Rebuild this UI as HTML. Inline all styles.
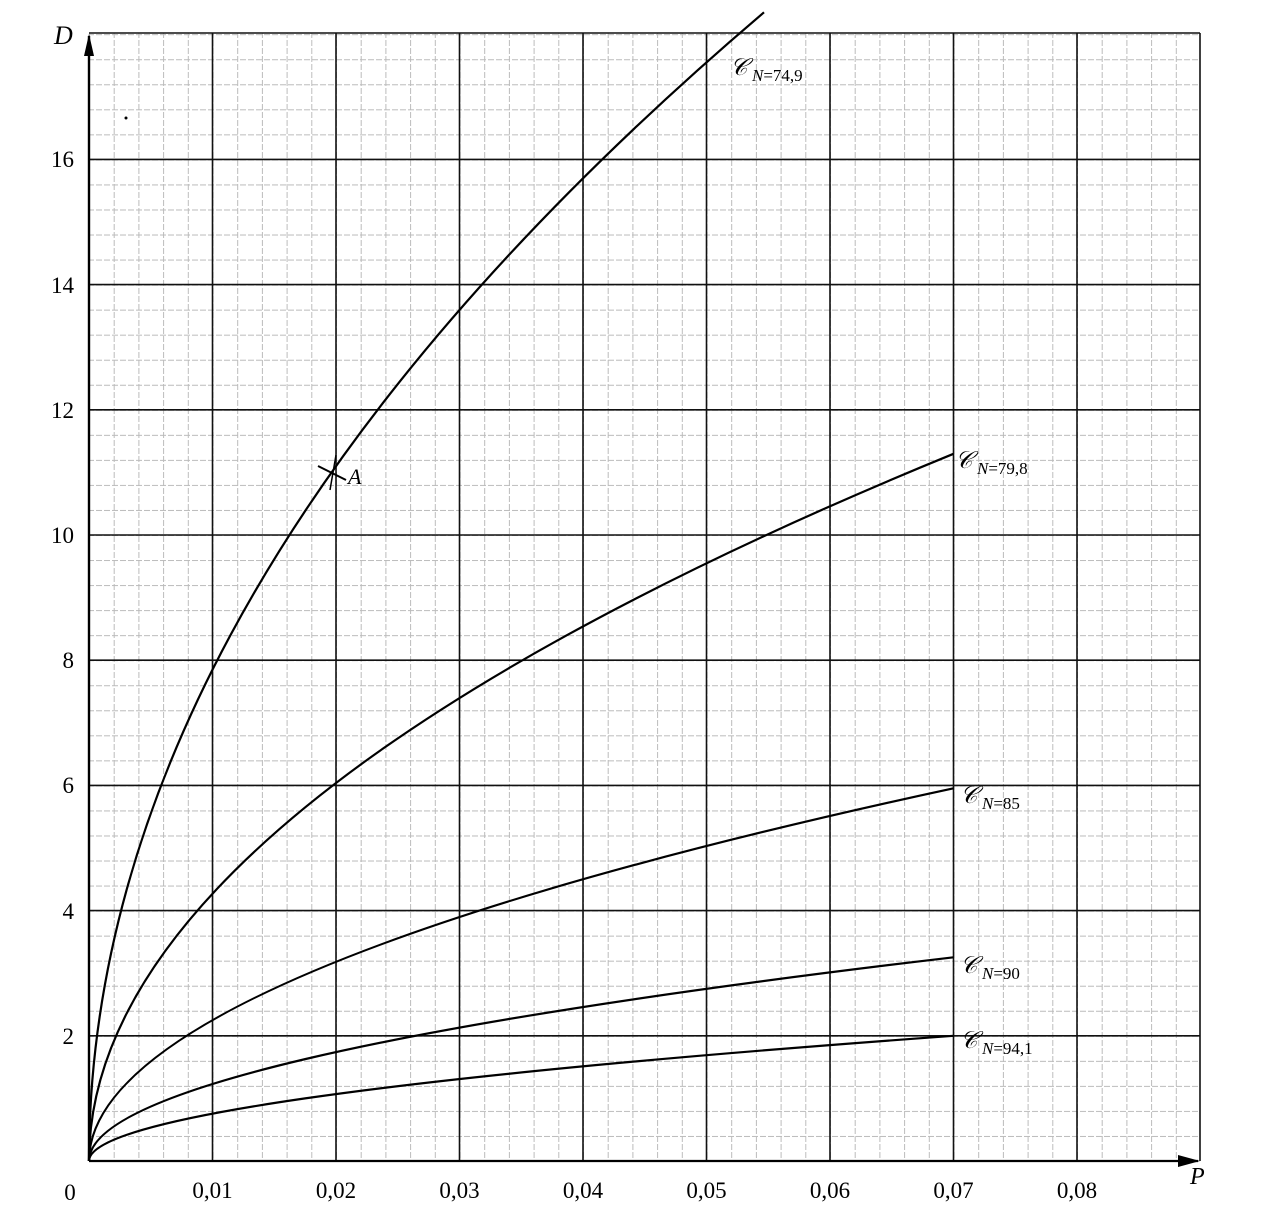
<!DOCTYPE html>
<html><head><style>body{margin:0;background:#fff}</style></head><body>
<svg width="1278" height="1222" xmlns="http://www.w3.org/2000/svg" font-family="Liberation Serif, serif">
<defs>
<pattern id="mv" patternUnits="userSpaceOnUse" x="89" y="0" width="24.7" height="8">
<line x1="0.5" y1="0" x2="0.5" y2="6" stroke="#bbb" stroke-width="1"/></pattern>
<pattern id="mh" patternUnits="userSpaceOnUse" x="0" y="1161" width="8" height="25.04">
<line x1="0" y1="0.5" x2="6" y2="0.5" stroke="#bbb" stroke-width="1"/></pattern>
</defs>
<rect x="89" y="33" width="1111" height="1128" fill="url(#mv)"/>
<rect x="89" y="33" width="1111" height="1128" fill="url(#mh)"/>
<g stroke="#111" stroke-width="1.6">
<line x1="212.5" y1="33" x2="212.5" y2="1161"/><line x1="336" y1="33" x2="336" y2="1161"/>
<line x1="459.5" y1="33" x2="459.5" y2="1161"/><line x1="583" y1="33" x2="583" y2="1161"/>
<line x1="706.5" y1="33" x2="706.5" y2="1161"/><line x1="830" y1="33" x2="830" y2="1161"/>
<line x1="953.5" y1="33" x2="953.5" y2="1161"/><line x1="1077" y1="33" x2="1077" y2="1161"/>
<line x1="1200" y1="33" x2="1200" y2="1161"/>
<line x1="89" y1="1035.8" x2="1200" y2="1035.8"/><line x1="89" y1="910.6" x2="1200" y2="910.6"/>
<line x1="89" y1="785.4" x2="1200" y2="785.4"/><line x1="89" y1="660.2" x2="1200" y2="660.2"/>
<line x1="89" y1="535" x2="1200" y2="535"/><line x1="89" y1="409.8" x2="1200" y2="409.8"/>
<line x1="89" y1="284.6" x2="1200" y2="284.6"/><line x1="89" y1="159.4" x2="1200" y2="159.4"/>
<line x1="89" y1="33" x2="1200" y2="33"/>
</g>
<line x1="89" y1="1161" x2="89" y2="36" stroke="#000" stroke-width="2.4"/>
<polygon points="84,56 89,34 94,56" fill="#000"/>
<line x1="89" y1="1161" x2="1198" y2="1161" stroke="#000" stroke-width="2.2"/>
<polygon points="1178,1155 1200,1161 1178,1167" fill="#000"/>
<g fill="none" stroke="#000" stroke-width="2.2">
<path d="M89,1161 Q89,586.6 764,12.3"/>
<path d="M89,1161 Q89,807.4 953.5,453.8"/>
<path d="M89,1161 Q89,974.7 953.5,788.3"/>
<path d="M89,1161 Q89,1059.1 953.5,957.3"/>
<path d="M89,1161 Q89,1098.4 953.5,1035.8"/>
</g>
<g font-size="24" font-style="italic">
<text x="730" y="75">𝒞</text><text x="955" y="468">𝒞</text><text x="960" y="803">𝒞</text><text x="960" y="973">𝒞</text><text x="960" y="1048">𝒞</text>
</g>
<g font-size="17">
<text x="752" y="81"><tspan font-style="italic">N</tspan>=74,9</text>
<text x="977" y="474"><tspan font-style="italic">N</tspan>=79,8</text>
<text x="982" y="809"><tspan font-style="italic">N</tspan>=85</text>
<text x="982" y="979"><tspan font-style="italic">N</tspan>=90</text>
<text x="982" y="1054"><tspan font-style="italic">N</tspan>=94,1</text>
</g>
<line x1="318" y1="466" x2="346" y2="480" stroke="#000" stroke-width="2"/>
<line x1="336" y1="455" x2="330" y2="490" stroke="#000" stroke-width="1.5"/>
<text x="348" y="484" font-size="22" font-style="italic">A</text>
<g font-size="23" text-anchor="end">
<text x="74" y="1044">2</text><text x="74" y="919">4</text><text x="74" y="793">6</text><text x="74" y="668">8</text>
<text x="74" y="543">10</text><text x="74" y="418">12</text><text x="74" y="293">14</text><text x="74" y="167">16</text>
</g>
<g font-size="23" text-anchor="middle">
<text x="212.5" y="1198">0,01</text><text x="336" y="1198">0,02</text><text x="459.5" y="1198">0,03</text><text x="583" y="1198">0,04</text>
<text x="706.5" y="1198">0,05</text><text x="830" y="1198">0,06</text><text x="953.5" y="1198">0,07</text><text x="1077" y="1198">0,08</text>
<text x="70" y="1200">0</text>
</g>
<text x="1190" y="1184" font-size="24" font-style="italic">P</text>
<text x="54" y="44" font-size="26" font-style="italic">D</text>
<circle cx="126" cy="118" r="1.5" fill="#000"/>
</svg>
</body></html>
